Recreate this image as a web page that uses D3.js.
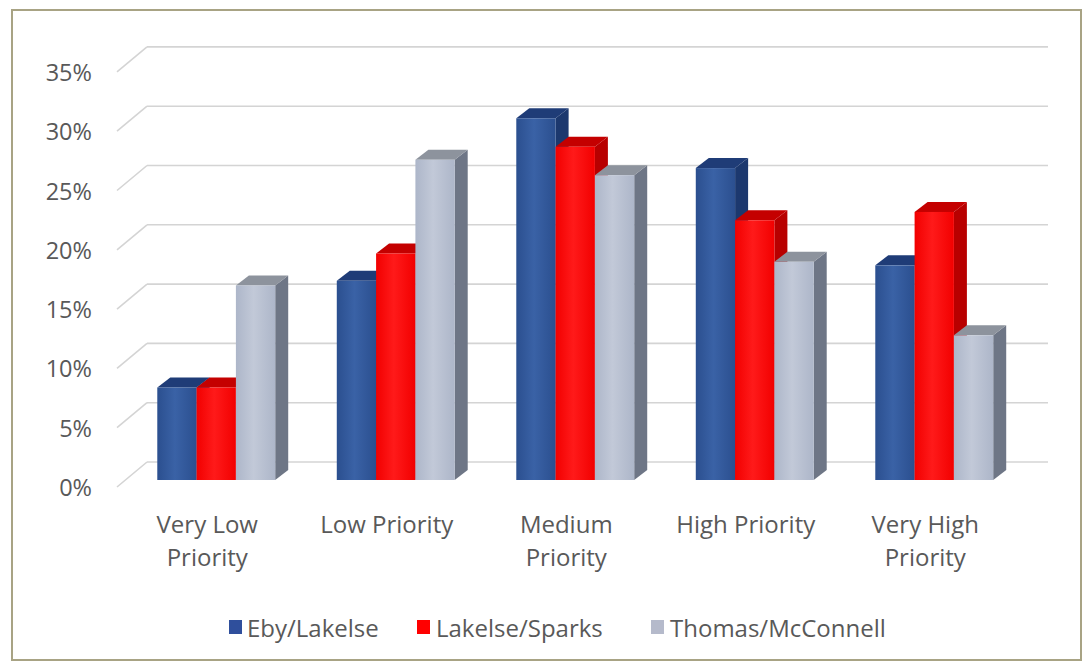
<!DOCTYPE html>
<html>
<head>
<meta charset="utf-8">
<script src="https://cdn.jsdelivr.net/npm/d3@7"></script>
<style>
  html, body { margin: 0; padding: 0; background: #ffffff; }
  svg { display: block; }
  text { font-family: "Open Sans", "Noto Sans", sans-serif; fill: #595959; }
</style>
</head>
<body>
<svg id="chart" width="1087" height="664"></svg>
<script>
// Share of responses by priority level, per neighbourhood
const categories = [["Very Low", "Priority"], ["Low Priority"], ["Medium", "Priority"], ["High Priority"], ["Very High", "Priority"]];
const seriesNames = ["Eby/Lakelse", "Lakelse/Sparks", "Thomas/McConnell"];
const ebyLakelse = [0.078, 0.168, 0.305, 0.263, 0.181];
const lakelseSparks = [0.078, 0.191, 0.281, 0.219, 0.226];
const thomasMcConnell = [0.164, 0.270, 0.257, 0.184, 0.122];
const yTicks = [0, 0.05, 0.10, 0.15, 0.20, 0.25, 0.30, 0.35];

const seriesValues = [ebyLakelse, lakelseSparks, thomasMcConnell];

// face colours per series: front (gradient ends), top, side
const palette = [
  { front: ["#2b4f8f", "#3a62a6"], top: "#1f3c77", side: "#1c386e", swatch: "#2f4f9c" },
  { front: ["#f20000", "#ff1a1a"], top: "#c40000", side: "#b80000", swatch: "#ff0000" },
  { front: ["#adb6c9", "#c2c9d8"], top: "#8d939d", side: "#6e7686", swatch: "#b5bacb" }
];

const svg = d3.select("#chart");
const defs = svg.append("defs");
palette.forEach((p, i) => {
  const g = defs.append("linearGradient").attr("id", "front" + i)
    .attr("x1", "0").attr("x2", "1").attr("y1", "0").attr("y2", "0");
  g.append("stop").attr("offset", "0").attr("stop-color", p.front[0]);
  g.append("stop").attr("offset", "0.45").attr("stop-color", p.front[1]);
  g.append("stop").attr("offset", "1").attr("stop-color", p.front[0]);
});

// outer frame
svg.append("rect").attr("x", 12).attr("y", 10).attr("width", 1069).attr("height", 650)
  .attr("fill", "#ffffff").attr("stroke", "#a8a384").attr("stroke-width", 2);

// vertical value scale, measured on the plane of the bars' front faces
const y = d3.scaleLinear().domain([0, 0.35]).range([480, 480 - 0.35 * 1186]);
// oblique offsets: back wall sits up/right of the bars, the front edge down/left
const backDy = -18;
const frontDy = 7;
const wallLeft = 147, wallRight = 1048;

// gridlines on back wall and left side wall
const grid = svg.append("g").attr("stroke", "#d4d4d4").attr("stroke-width", 1.6).attr("fill", "none");
yTicks.forEach(t => {
  const yb = y(t) + backDy;
  grid.append("line").attr("x1", wallLeft).attr("x2", wallRight).attr("y1", yb).attr("y2", yb);
  grid.append("line").attr("x1", wallLeft).attr("y1", yb).attr("x2", wallLeft - 30).attr("y2", yb + 25);
});

// tick labels along the front edge of the side wall
svg.append("g").selectAll("text").data(yTicks).join("text")
  .attr("x", 92).attr("y", t => y(t) + frontDy)
  .attr("text-anchor", "end").attr("dominant-baseline", "central")
  .attr("font-size", 23.5)
  .text(d3.format(".0%"));

// category and series bands
const x = d3.scaleBand().domain(d3.range(categories.length))
  .range([126.5, 1024]).paddingInner(0.343).paddingOuter(0.1715);
const xs = d3.scaleBand().domain(d3.range(seriesNames.length)).range([0, x.bandwidth()]);

const depthX = 13, depthY = -10;
const bars = svg.append("g");
categories.forEach((c, ci) => {
  seriesValues.forEach((vals, si) => {
    const v = vals[ci];
    const x0 = x(ci) + xs(si), x1 = x0 + xs.bandwidth();
    const yt = y(v), yb = y(0);
    const p = palette[si];
    const g = bars.append("g");
    // right side face
    g.append("path").attr("fill", p.side)
      .attr("d", `M${x1},${yb}L${x1 + depthX},${yb + depthY}L${x1 + depthX},${yt + depthY}L${x1},${yt}Z`);
    // top face
    g.append("path").attr("fill", p.top)
      .attr("d", `M${x0},${yt}L${x0 + depthX},${yt + depthY}L${x1 + depthX},${yt + depthY}L${x1},${yt}Z`);
    // front face
    g.append("rect").attr("x", x0).attr("y", yt).attr("width", x1 - x0).attr("height", yb - yt)
      .attr("fill", `url(#front${si})`);
  });
});

// category labels under the floor
const lab = svg.append("g");
categories.forEach((c, ci) => {
  const cx = x(ci) + x.bandwidth() / 2 - 9;
  const t = lab.append("text").attr("x", cx).attr("y", 533)
    .attr("text-anchor", "middle").attr("font-size", 24);
  c.forEach((line, li) => {
    t.append("tspan").attr("x", cx).attr("dy", li === 0 ? 0 : 33).text(line);
  });
});

// legend
const legendItems = [
  { x: 229, tx: 247 },
  { x: 417, tx: 436 },
  { x: 651, tx: 670 }
];
const leg = svg.append("g");
seriesNames.forEach((name, i) => {
  leg.append("rect").attr("x", legendItems[i].x).attr("y", 620).attr("width", 13).attr("height", 14)
    .attr("fill", palette[i].swatch);
  leg.append("text").attr("x", legendItems[i].tx).attr("y", 627)
    .attr("dominant-baseline", "central").attr("font-size", 24).text(name);
});
</script>
</body>
</html>
